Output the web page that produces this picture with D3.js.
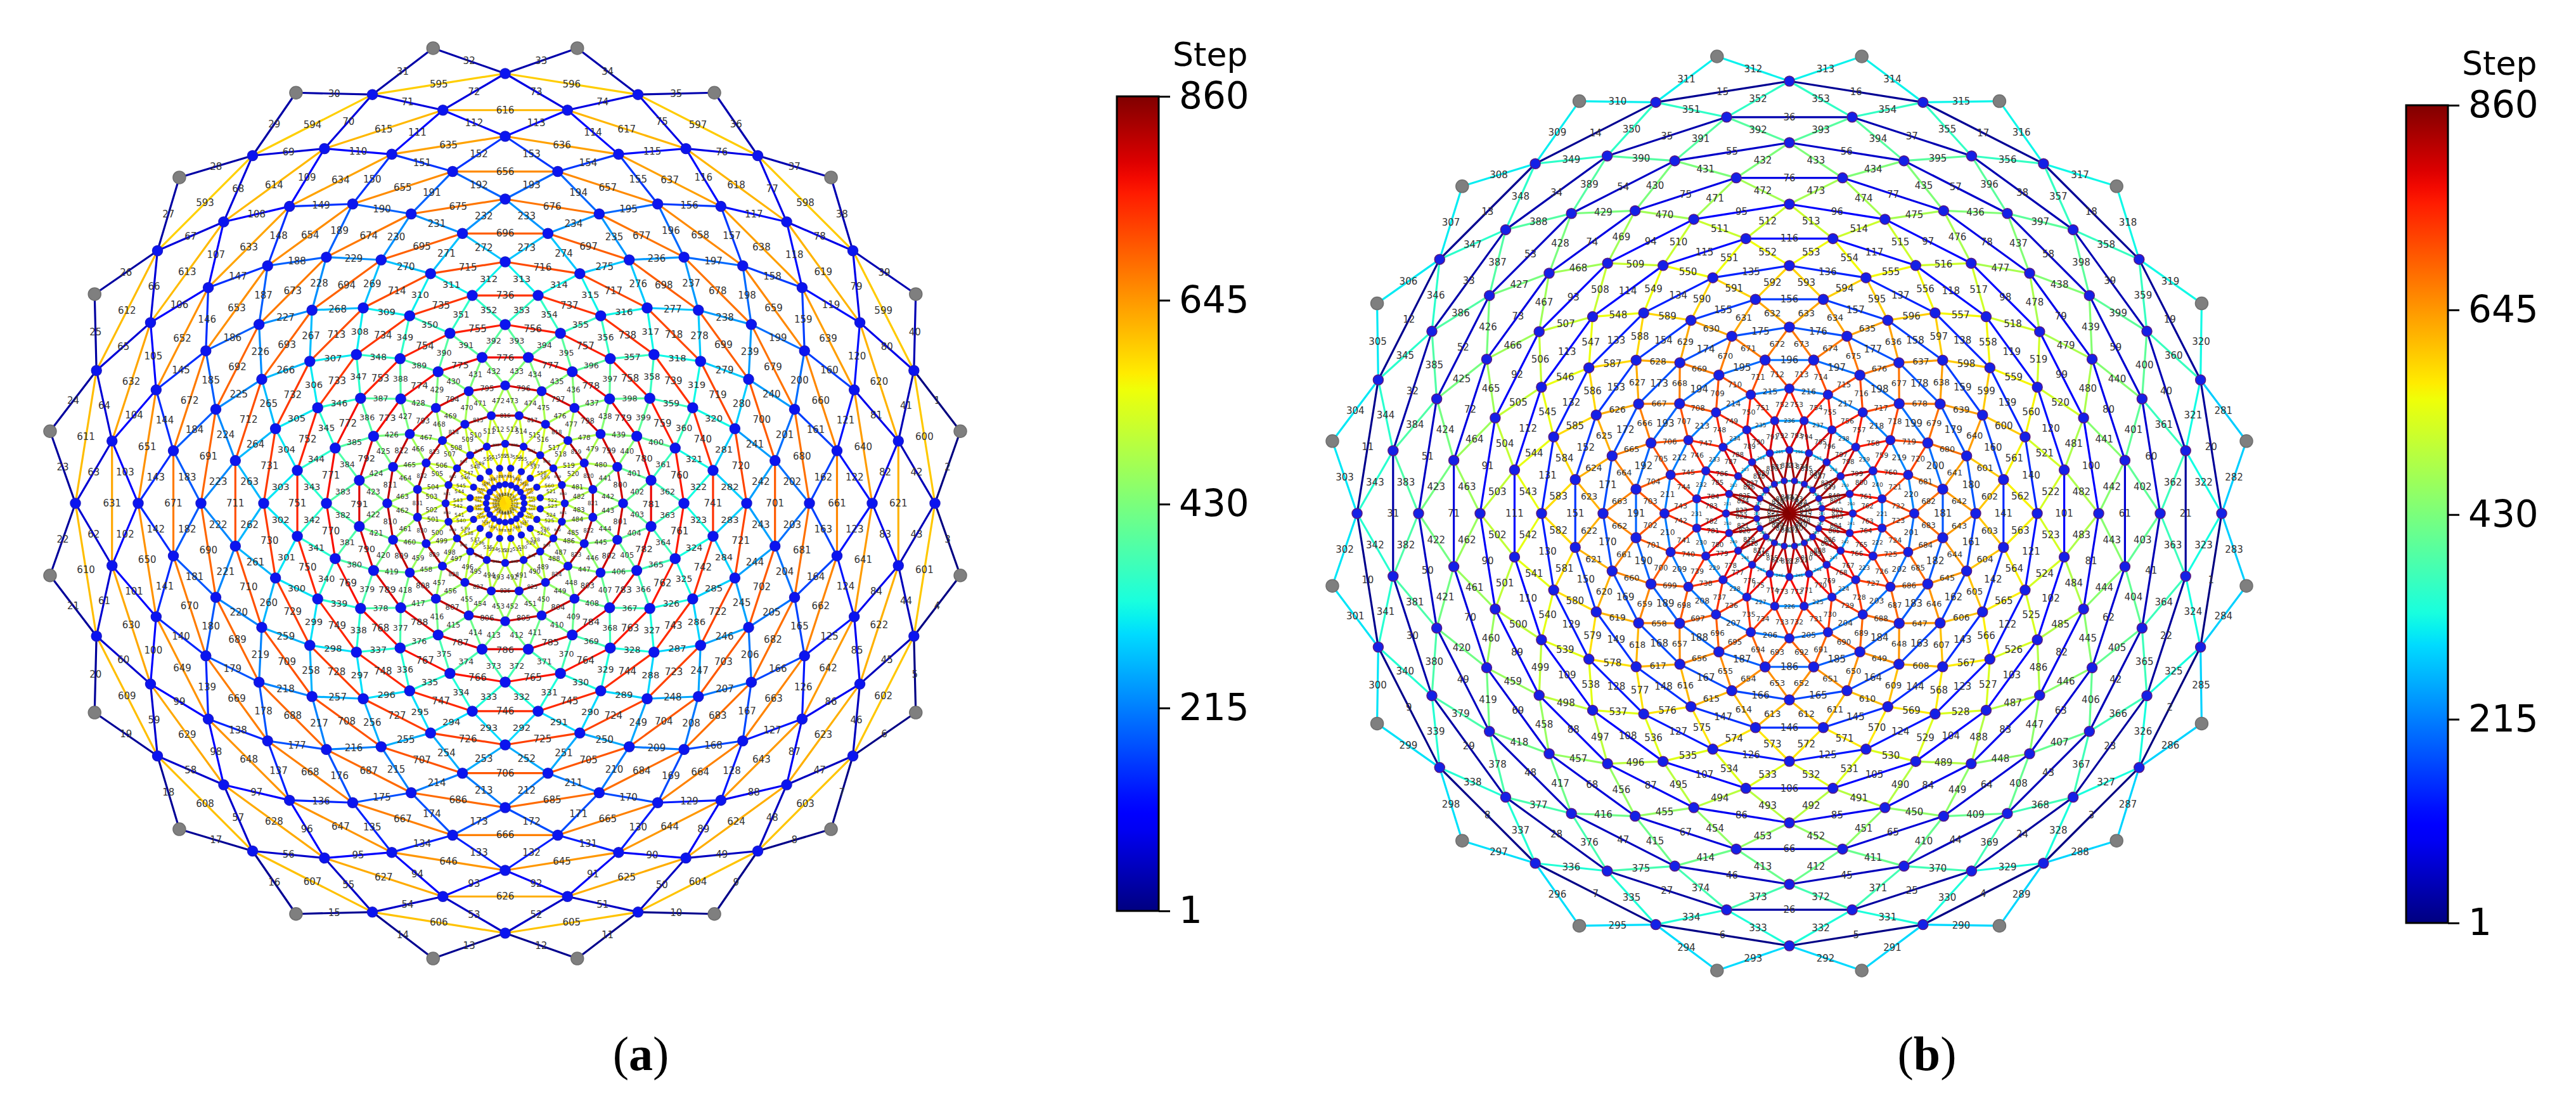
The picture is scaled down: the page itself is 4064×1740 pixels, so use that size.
<!DOCTYPE html>
<html>
<head>
<meta charset="utf-8">
<script src="https://cdn.jsdelivr.net/npm/d3@7"></script>
<style>
  body { margin: 0; background: #fff; }
  svg { display: block; }
</style>
</head>
<body>
<div id="chart"></div>
<script>
//data
const nodesPerRing = 20
const stepMax = 860
const colorTicks = [1, 215, 430, 645, 860]

// panel (a): ring radii, outer (grey) ring first
const ringRadiusA = [727, 678, 628, 579, 530, 480, 431, 381, 332, 282, 233, 186, 140, 94, 56, 30]
// first step of each zig-zag layer between ring k and ring k+1
const zigStartA = [1, 41, 81, 121, 161, 201, 241, 281, 321, 361, 401, 441, 481, 521, 561]
// first step of the polygon on rings 1..13
const ringStartA = [593, 613, 633, 653, 673, 693, 713, 733, 753, 773, 793, 813, 833]
const spokeStartA = 573

// panel (b)
const ringRadiusB = [730, 682, 633, 585, 536, 488, 439, 391, 342, 294, 245, 197, 148, 100, 52]
const ringStartB = [1, 21, 41, 61, 81, 101, 121, 141, 161, 181, 201, 221, 241, 261]
const zigStartB = [281, 321, 361, 401, 441, 481, 521, 561, 601, 641, 681, 721, 761, 801]
const spokeStartB = 841

//dimensions
const width = 4064, height = 1740

const svg = d3.select('#chart').append('svg')
  .attr('width', width)
  .attr('height', height)

//jet colormap
const jetR = d3.scaleLinear().domain([0, 0.35, 0.66, 0.89, 1]).range([0, 0, 1, 1, 0.5]).clamp(true)
const jetG = d3.scaleLinear().domain([0, 0.125, 0.375, 0.64, 0.91, 1]).range([0, 0, 1, 1, 0, 0]).clamp(true)
const jetB = d3.scaleLinear().domain([0, 0.11, 0.34, 0.65, 1]).range([0.5, 1, 1, 0, 0]).clamp(true)
const norm = d3.scaleLinear().domain([1, stepMax]).range([0, 1]).clamp(true)
const jet = s => {
  const t = norm(s)
  return d3.rgb(jetR(t) * 255, jetG(t) * 255, jetB(t) * 255).formatHex()
}

// angle of node i on ring k (degrees, math orientation)
const nodeAngle = (k, i) => 9 * (k + 1) + 18 * i
const rad = d => d * Math.PI / 180

function buildGraph(radii, zigStart, ringStart, ringFirst, ringStartAngle, spokeStart) {
  const nodes = []
  radii.forEach((r, k) => {
    for (let i = 0; i < nodesPerRing; i++) {
      const a = nodeAngle(k, i)
      nodes.push({k, i, r, a, grey: k === 0})
    }
  })
  const nodeAt = (k, i) => nodes[k * nodesPerRing + ((i % nodesPerRing) + nodesPerRing) % nodesPerRing]
  const edges = []
  const midAngle = (p, q) => {
    let d = ((q.a - p.a) % 360 + 540) % 360 - 180
    return p.a + d / 2
  }
  // zig-zag edges between neighbouring rings
  zigStart.forEach((s0, k) => {
    for (let i = 0; i < nodesPerRing; i++) {
      const p = nodeAt(k, i)
      // ring k+1 is shifted +9 deg: neighbours are i and i-1
      ;[nodeAt(k + 1, i), nodeAt(k + 1, i - 1)].forEach(q => {
        const m = midAngle(p, q)
        const j = ((Math.round((9 - m) / 9) % 40) + 40) % 40
        edges.push({source: p, target: q, step: s0 + j})
      })
    }
  })
  // ring polygons
  ringStart.forEach((s0, idx) => {
    const k = idx + ringFirst
    for (let i = 0; i < nodesPerRing; i++) {
      const p = nodeAt(k, i), q = nodeAt(k, i + 1)
      const m = midAngle(p, q)
      const j = ((Math.round((ringStartAngle - m) / 18) % 20) + 20) % 20
      edges.push({source: p, target: q, step: s0 + j})
    }
  })
  // spokes to the centre
  const centre = {k: -1, r: 0, a: 0}
  const k = radii.length - 1
  for (let i = 0; i < nodesPerRing; i++) {
    const p = nodeAt(k, i)
    const j = ((Math.round((90 - p.a) / 18) % 20) + 20) % 20
    edges.push({source: p, target: centre, step: spokeStart + j})
  }
  return {nodes, edges}
}

function drawPanel(cx, cy, graph, nodeFill, nodeStroke) {
  const g = svg.append('g').attr('transform', `translate(${cx},${cy})`)
  const px = d => d.r * Math.cos(rad(d.a))
  const py = d => -d.r * Math.sin(rad(d.a))

  const edges = graph.edges.slice().sort((a, b) => a.step - b.step)
  g.append('g')
    .attr('stroke-width', 3.2)
    .attr('stroke-linecap', 'round')
    .selectAll('line')
    .data(edges)
    .join('line')
    .attr('x1', d => px(d.source))
    .attr('y1', d => py(d.source))
    .attr('x2', d => px(d.target))
    .attr('y2', d => py(d.target))
    .attr('stroke', d => jet(d.step))

  g.append('g')
    .selectAll('circle')
    .data(graph.nodes)
    .join('circle')
    .attr('cx', px)
    .attr('cy', py)
    .attr('r', d => d.grey ? 10 : Math.min(8, 4 + d.r / 60))
    .attr('fill', d => d.grey ? '#7f7f7f' : nodeFill)
    .attr('stroke', d => d.grey ? '#6f6f6f' : nodeStroke)
    .attr('stroke-width', 1.5)

  // labels only where the edge is long enough to hold them
  const len = d => Math.hypot(px(d.source) - px(d.target), py(d.source) - py(d.target))
  g.append('g')
    .attr('font-family', 'DejaVu Sans, sans-serif')
    .attr('fill', '#333')
    .attr('text-anchor', 'middle')
    .attr('dominant-baseline', 'central')
    .selectAll('text')
    .data(edges)
    .join('text')
    .attr('x', d => (px(d.source) + px(d.target)) / 2)
    .attr('y', d => (py(d.source) + py(d.target)) / 2)
    .attr('font-size', d => Math.max(5, Math.min(15, len(d) * 0.2)))
    .text(d => d.step)
}

function drawColorbar(x, y0, y1, barW) {
  const id = 'jet' + x
  const grad = svg.append('defs').append('linearGradient')
    .attr('id', id).attr('x1', 0).attr('y1', 1).attr('x2', 0).attr('y2', 0)
  d3.range(0, 1.0001, 0.02).forEach(t => {
    grad.append('stop').attr('offset', t).attr('stop-color', jet(1 + t * (stepMax - 1)))
  })
  svg.append('rect')
    .attr('x', x).attr('y', y0).attr('width', barW).attr('height', y1 - y0)
    .attr('fill', `url(#${id})`).attr('stroke', '#000').attr('stroke-width', 3)

  const scale = d3.scaleLinear().domain([1, stepMax]).range([y1, y0])
  const axis = d3.axisRight(scale).tickValues(colorTicks).tickSize(18).tickPadding(14)
  const ax = svg.append('g').attr('transform', `translate(${x + barW},0)`).call(axis)
  ax.select('.domain').remove()
  ax.selectAll('line').attr('stroke-width', 3)
  ax.selectAll('text')
    .attr('font-family', 'DejaVu Sans, sans-serif')
    .attr('font-size', 58)
    .attr('fill', '#000')
  svg.append('text')
    .attr('x', x + barW + 22).attr('y', y0 - 48)
    .attr('font-family', 'DejaVu Sans, sans-serif')
    .attr('font-size', 52)
    .text('Step')
}

function caption(x, letter) {
  const t = svg.append('text')
    .attr('x', x).attr('y', 1688)
    .attr('text-anchor', 'middle')
    .attr('font-family', 'Liberation Serif, serif')
    .attr('font-size', 76)
  t.append('tspan').text('(')
  t.append('tspan').attr('font-weight', 'bold').text(letter)
  t.append('tspan').text(')')
}

const graphA = buildGraph(ringRadiusA, zigStartA, ringStartA, 1, 135, spokeStartA)
const graphB = buildGraph(ringRadiusB, zigStartB, ringStartB, 1, -9, spokeStartB)

drawPanel(797, 794, graphA, '#0a14f0', '#1a1acc')
drawPanel(2823, 810, graphB, '#1420e6', '#5a1a80')

drawColorbar(1762, 152, 1437, 66)
drawColorbar(3796, 166, 1456, 66)

caption(1011, 'a')
caption(3040, 'b')
</script>
</body>
</html>
